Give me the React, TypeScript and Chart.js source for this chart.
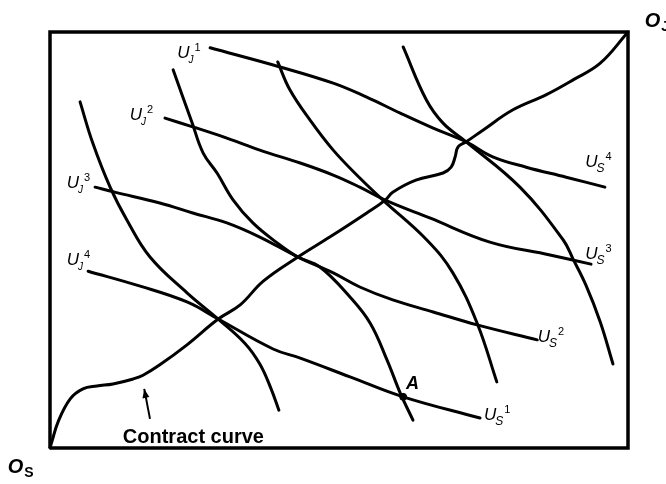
import React, { useEffect, useRef } from "react";
import { Chart, registerables } from "chart.js";

Chart.register(...registerables);

type P = [number, number];

// Edgeworth box in units: 0..100 on both axes, measured from O_S
const boxCorners: P[] = [[0, 0], [100, 0], [100, 100], [0, 100], [0, 0]];

const contractCurve: P[] = [
  [0, 0], [0.3, 1.4], [1.4, 6.3], [3.5, 11.8], [5.7, 14.2], [8.1, 14.9], [10.9, 15.4],
  [14.4, 16.6], [16.1, 17.5], [19.0, 20.0], [23.7, 24.8], [29.1, 31.0], [32.9, 34.4],
  [36.9, 40.1], [42.9, 45.9], [48.4, 50.7], [54.8, 56.5], [58.0, 59.6], [59.3, 61.5],
  [63.3, 64.4], [68.0, 66.1], [69.4, 67.5], [70.1, 70.0], [70.6, 72.4], [72.0, 73.6],
  [74.9, 76.4], [80.1, 81.3], [85.8, 84.9], [90.5, 88.5], [95.2, 92.5], [100, 100],
];

// flatter curves (U_J^k at left end, U_S^(5-k) at right end)
const curveL1: P[] = [
  [27.7, 96.2], [39.8, 91.6], [49.0, 87.7], [54.7, 84.4], [60.6, 80.5], [66.3, 76.9],
  [72.0, 73.6], [76.6, 70.0], [82.4, 67.5], [89.3, 65.1], [96.0, 62.7],
];
const curveL2: P[] = [
  [19.9, 79.3], [24.7, 77.2], [30.6, 74.5], [36.3, 71.6], [43.3, 68.5], [49.0, 65.6],
  [53.6, 62.7], [58.0, 59.6], [65.7, 55.3], [76.1, 49.5], [86.5, 46.4], [93.6, 44.2],
];
const curveL3: P[] = [
  [7.8, 62.7], [11.2, 61.5], [19.0, 58.9], [24.7, 56.5], [30.6, 54.1], [36.3, 50.7],
  [42.9, 45.9], [49.0, 42.1], [53.6, 38.7], [59.3, 35.6], [66.3, 32.7], [73.9, 29.6],
  [84.3, 26.0],
];
const curveL4: P[] = [
  [6.6, 42.5], [15.6, 38.9], [23.7, 35.1], [29.1, 31.0], [38.6, 23.8], [43.3, 21.6],
  [51.9, 17.1], [61.1, 12.3], [74.4, 7.2],
];

// steeper curves
const curveC1: P[] = [
  [5.2, 83.2], [7.4, 73.3], [10.4, 62.7], [13.3, 54.8], [17.3, 45.9], [23.7, 37.3],
  [29.1, 31.0], [33.7, 25.2], [36.3, 20.2], [38.2, 14.4], [39.6, 9.1],
];
const curveC2: P[] = [
  [21.3, 90.9], [24.6, 78.1], [26.5, 70.9], [28.9, 66.1], [31.7, 59.6], [35.1, 54.1],
  [39.3, 49.3], [42.9, 45.9], [46.7, 43.5], [51.9, 36.3], [55.4, 30.0], [58.3, 21.2],
  [60.6, 13.2], [62.8, 6.7],
];
const curveC3: P[] = [
  [39.4, 92.8], [41.5, 86.1], [45.0, 78.8], [49.0, 71.6], [53.6, 64.9], [57.6, 59.6],
  [65.2, 50.0], [69.7, 42.1], [73.9, 30.0], [77.3, 15.9],
];
const curveC4: P[] = [
  [61.1, 96.4], [65.1, 83.7], [68.0, 78.1], [72.0, 73.6], [81.3, 62.7], [88.8, 50.0],
  [90.5, 45.4], [92.7, 39.2], [95.2, 30.3], [97.4, 20.2],
];

const pointA: P[] = [[61.1, 12.3]];

// label texts and their anchor points (data units, baseline-left of main glyph)
const curveLabels = [
  { base: "U", sub: "J", sup: "1", x: 22.0, y: 93.8 },
  { base: "U", sub: "J", sup: "2", x: 13.8, y: 78.8 },
  { base: "U", sub: "J", sup: "3", x: 2.9, y: 62.5 },
  { base: "U", sub: "J", sup: "4", x: 2.9, y: 44.0 },
  { base: "U", sub: "S", sup: "4", x: 92.6, y: 67.5 },
  { base: "U", sub: "S", sup: "3", x: 92.6, y: 45.4 },
  { base: "U", sub: "S", sup: "2", x: 84.4, y: 25.5 },
  { base: "U", sub: "S", sup: "1", x: 75.1, y: 6.7 },
];
const originLabels = [
  { base: "O", sub: "S", x: -7.3, y: -6.0 },
  { base: "O", sub: "J", x: 102.9, y: 101.2 },
];
const pointLabel = { text: "A", x: 61.6, y: 14.2 };
const noteLabel = { text: "Contract curve", x: 12.6, y: 1.2 };
const arrowFrom: P = [17.3, 7.0];
const arrowTo: P = [16.3, 14.2];

const toXY = (arr: P[]) => arr.map(([x, y]) => ({ x, y }));

const FONT = "'Liberation Sans', Arial, sans-serif";

const annotationPlugin = {
  id: "annotations",
  afterDatasetsDraw(chart: any) {
    const { ctx } = chart;
    const xs = chart.scales.x;
    const ys = chart.scales.y;
    const px = (v: number) => xs.getPixelForValue(v);
    const py = (v: number) => ys.getPixelForValue(v);
    ctx.save();
    ctx.fillStyle = "#000";
    ctx.strokeStyle = "#000";
    ctx.textBaseline = "alphabetic";
    ctx.textAlign = "left";

    for (const l of curveLabels) {
      const x = px(l.x);
      const y = py(l.y);
      ctx.font = `italic 17px ${FONT}`;
      ctx.fillText(l.base, x, y);
      const w = ctx.measureText(l.base).width;
      const subSize = l.sub === "S" ? 12 : 10;
      ctx.font = `italic ${subSize}px ${FONT}`;
      ctx.fillText(l.sub, x + w - 1, y + 5);
      const sw = ctx.measureText(l.sub).width;
      ctx.font = `11px ${FONT}`;
      ctx.fillText(l.sup, x + w - 1 + sw + 1, y - 7);
    }

    for (const l of originLabels) {
      const x = px(l.x);
      const y = py(l.y);
      ctx.font = `bold italic 20px ${FONT}`;
      ctx.fillText(l.base, x, y);
      const w = ctx.measureText(l.base).width;
      ctx.font = `bold 14px ${FONT}`;
      ctx.fillText(l.sub, x + w + 1, y + 4);
    }

    ctx.font = `bold italic 18px ${FONT}`;
    ctx.fillText(pointLabel.text, px(pointLabel.x), py(pointLabel.y));

    ctx.font = `bold 20px ${FONT}`;
    ctx.fillText(noteLabel.text, px(noteLabel.x), py(noteLabel.y));

    // arrow
    const x0 = px(arrowFrom[0]), y0 = py(arrowFrom[1]);
    const x1 = px(arrowTo[0]), y1 = py(arrowTo[1]);
    ctx.lineWidth = 2;
    ctx.beginPath();
    ctx.moveTo(x0, y0);
    ctx.lineTo(x1, y1);
    ctx.stroke();
    const ang = Math.atan2(y1 - y0, x1 - x0);
    const len = 9, half = 3.5;
    ctx.beginPath();
    ctx.moveTo(x1, y1);
    ctx.lineTo(x1 - len * Math.cos(ang) + half * Math.sin(ang), y1 - len * Math.sin(ang) - half * Math.cos(ang));
    ctx.lineTo(x1 - len * Math.cos(ang) - half * Math.sin(ang), y1 - len * Math.sin(ang) + half * Math.cos(ang));
    ctx.closePath();
    ctx.fill();
    ctx.restore();
  },
};

export default function App() {
  const ref = useRef<HTMLCanvasElement | null>(null);

  useEffect(() => {
    document.body.style.margin = "0";
    const canvas = ref.current;
    if (!canvas) return;
    const curveStyle = {
      borderColor: "#000",
      borderWidth: 3,
      pointRadius: 0,
      tension: 0.4,
      fill: false,
      showLine: true,
      clip: false as any,
      borderCapStyle: "round" as const,
      borderJoinStyle: "round" as const,
    };
    const curves = [contractCurve, curveL1, curveL2, curveL3, curveL4, curveC1, curveC2, curveC3, curveC4];
    const chart = new Chart(canvas, {
      type: "line",
      data: {
        datasets: [
          {
            data: toXY(boxCorners),
            borderColor: "#000",
            borderWidth: 3.5,
            pointRadius: 0,
            tension: 0,
            fill: false,
            clip: false as any,
            borderJoinStyle: "miter",
          } as any,
          ...curves.map((c) => ({ ...curveStyle, data: toXY(c) })),
          {
            data: toXY(pointA),
            showLine: false,
            pointRadius: 3.5,
            pointBackgroundColor: "#000",
            pointBorderColor: "#000",
            clip: false as any,
          } as any,
        ],
      },
      options: {
        animation: false,
        responsive: false,
        maintainAspectRatio: false,
        layout: { padding: { left: 50, top: 32, right: 38, bottom: 36 } },
        plugins: { legend: { display: false }, tooltip: { enabled: false } },
        scales: {
          x: { type: "linear", min: 0, max: 100, display: false },
          y: { type: "linear", min: 0, max: 100, display: false },
        },
      },
      plugins: [annotationPlugin],
    });
    return () => chart.destroy();
  }, []);

  return (
    <div style={{ width: 666, height: 484, background: "#fff" }}>
      <canvas ref={ref} width={666} height={484} style={{ display: "block" }} />
    </div>
  );
}
